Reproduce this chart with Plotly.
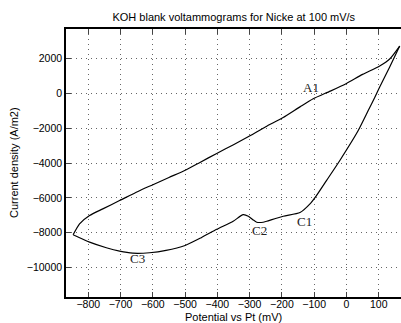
import plotly.graph_objects as go

# Upper (anodic) branch, from apex leftwards
upper_x = [165, 134, 103, 50, 0, -50, -103, -144, -196, -250, -299, -350, -402, -454, -498, -550, -598, -646, -703, -755, -796, -827, -847]
upper_y = [2700, 1960, 1560, 1080, 560, 120, -320, -783, -1394, -1920, -2440, -2950, -3451, -3966, -4400, -4830, -5230, -5630, -6154, -6629, -7011, -7486, -8114]

# Lower (cathodic) branch, from left back to apex
lower_x = [-847, -796, -744, -703, -662, -610, -559, -500, -450, -402, -351, -320, -304, -290, -278, -258, -247, -196, -144, -113, -93, -62, -21, 36, 67, 88, 103, 134, 165]
lower_y = [-8114, -8537, -8857, -9051, -9166, -9143, -9011, -8726, -8280, -7800, -7337, -6960, -7050, -7250, -7394, -7394, -7337, -7051, -6840, -6343, -5869, -5011, -3869, -2154, -1011, -230, 360, 1500, 2700]

label_text = ["A1", "C1", "C2", "C3"]
label_x = [-110, -130, -268, -647]
label_y = [300, -7354, -7840, -9497]

x_ticks = [-800, -700, -600, -500, -400, -300, -200, -100, 0, 100]
y_ticks = [2000, 0, -2000, -4000, -6000, -8000, -10000]
y_tick_text = ["2000", "0", "\u22122000", "\u22124000", "\u22126000", "\u22128000", "\u221210000"]

fig = go.Figure()
for xs, ys in ((upper_x, upper_y), (lower_x, lower_y)):
    fig.add_trace(go.Scatter(
        x=xs, y=ys, mode="lines",
        line=dict(color="black", width=1.2, shape="spline", smoothing=0.6),
        showlegend=False,
    ))

for t, x, y in zip(label_text, label_x, label_y):
    fig.add_annotation(x=x, y=y, text=t, showarrow=False,
                       font=dict(family="Liberation Serif", size=13, color="#222"))

fig.add_annotation(xref="paper", yref="paper", x=0.5, y=0, yshift=-20, yanchor="middle",
                   text="Potential vs Pt (mV)", showarrow=False,
                   font=dict(family="Liberation Sans", size=11, color="black"))
fig.add_annotation(xref="paper", yref="paper", x=0, xshift=-52, y=0.5, xanchor="center",
                   text="Current density (A/m2)", textangle=-90, showarrow=False,
                   font=dict(family="Liberation Sans", size=11, color="black"))

grid = "#666"
fig.update_layout(
    width=401, height=323,
    margin=dict(l=66, r=0, t=29, b=26),
    paper_bgcolor="white", plot_bgcolor="white",
    font=dict(family="Liberation Sans", size=11, color="black"),
    title=dict(text="KOH blank voltammograms for Nicke at 100 mV/s", x=0.583, xanchor="center",
               yref="container", y=1 - 17 / 323, yanchor="middle",
               font=dict(family="Liberation Sans", size=11, color="black")),
    xaxis=dict(range=[-869, 169], tickvals=x_ticks, ticks="inside", ticklen=5,
               showline=True, linecolor="black", linewidth=1.5, mirror="ticks",
               showgrid=True, gridcolor=grid, griddash="1px,4px", gridwidth=1,
               zeroline=False, tickfont=dict(size=10.5), ticklabelstandoff=-3),
    yaxis=dict(range=[-11680, 3680], tickvals=y_ticks, ticktext=y_tick_text,
               ticks="inside", ticklen=5,
               showline=True, linecolor="black", linewidth=1.5, mirror=False,
               showgrid=True, gridcolor=grid, griddash="1px,4px", gridwidth=1,
               zeroline=False, tickfont=dict(size=10.5)),
)

fig.write_html("out.html")
